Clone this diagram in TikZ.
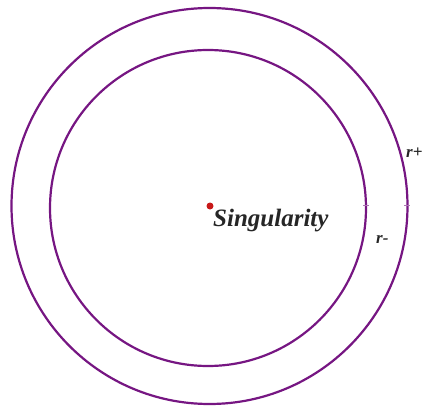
\documentclass[tikz,border=0pt]{standalone}
\usepackage{fontspec}
\setmainfont{Liberation Serif}
\definecolor{ringpurple}{RGB}{118,22,130}
\definecolor{dotred}{RGB}{200,25,25}
\begin{document}
\begin{tikzpicture}[x=1pt,y=-1pt,
  ring/.style={circle,draw=ringpurple,line width=2.2pt,inner sep=0pt},
  lbl/.style={font=\fontsize{17}{20}\selectfont\bfseries\itshape,inner sep=0pt,text=black!85},
  biglbl/.style={font=\fontsize{25}{28}\selectfont\bfseries\itshape,inner sep=0pt,text=black!85},
  tickmark/.style={draw=ringpurple!60,line width=0.8pt}]
\useasboundingbox (0,0) rectangle (424,410);
\node[ring,minimum size=396pt] (outer) at (209.5,206) {};
\node[ring,minimum size=316pt] (inner) at (208,208) {};
\node[circle,fill=dotred,inner sep=0pt,minimum size=7pt] (sing) at (210,206) {};
\node[biglbl,anchor=base west] (singlbl) at (213,226) {Singularity};
\node[lbl,anchor=base west] (rminus) at (376,243) {r-};
\node[lbl,anchor=base west] (rplus) at (406,157) {r+};
\coordinate (ti) at (366,205);
\coordinate (to) at (407,205);
\draw[tickmark] ([xshift=-3pt]ti) -- ([xshift=3pt]ti);
\draw[tickmark] ([xshift=-3pt]to) -- ([xshift=3pt]to);
\end{tikzpicture}
\end{document}
